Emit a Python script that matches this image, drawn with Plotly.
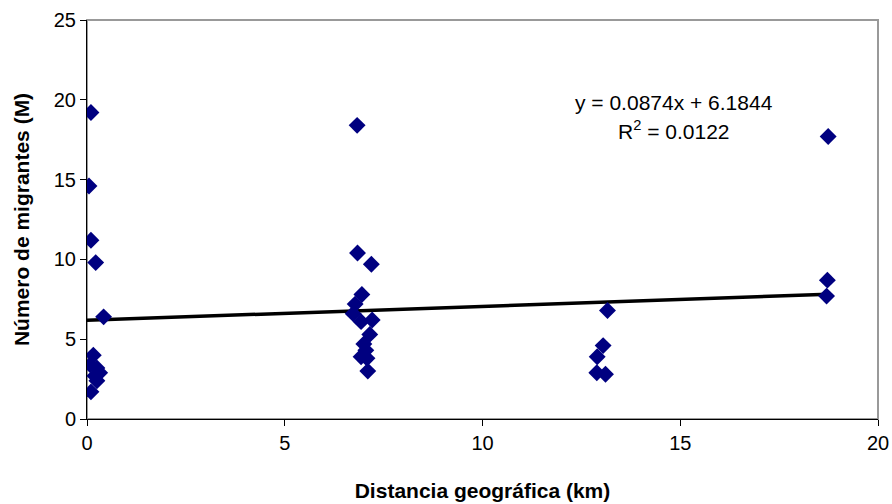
import plotly.graph_objects as go

# Data
dist_km = [0.10, 0.05, 0.10, 0.22, 0.42, 0.16, 0.08, 0.25, 0.32, 0.20, 0.25, 0.10,
           6.83, 6.84, 7.19, 6.95, 6.78, 6.73, 6.93, 7.21, 7.15, 7.00, 7.05, 6.93, 7.08, 7.10,
           13.16, 13.05, 12.90, 12.89, 13.11,
           18.74, 18.72, 18.70]
migrantes = [19.2, 14.6, 11.2, 9.8, 6.4, 4.0, 3.4, 3.2, 2.9, 2.7, 2.4, 1.7,
             18.4, 10.4, 9.7, 7.8, 7.2, 6.6, 6.1, 6.2, 5.3, 4.7, 4.3, 3.9, 3.8, 3.0,
             6.8, 4.6, 3.9, 2.9, 2.8,
             17.7, 8.7, 7.7]
slope = 0.0874
intercept = 6.1844
r2 = 0.0122
x_ticks = [0, 5, 10, 15, 20]
y_ticks = [0, 5, 10, 15, 20, 25]

x_line = [0, max(dist_km)]
y_line = [slope * v + intercept for v in x_line]

FONT = "Liberation Sans, Arial"

fig = go.Figure()
fig.add_trace(go.Scatter(x=x_line, y=y_line, mode="lines",
                         line=dict(color="black", width=3.5), hoverinfo="skip"))
fig.add_trace(go.Scatter(x=dist_km, y=migrantes, mode="markers",
                         marker=dict(symbol="diamond", size=13, color="#000080",
                                     line=dict(width=0))))

fig.add_annotation(x=14.85, y=19.8, xref="x", yref="y",
                   text=f"y = {slope}x + {intercept}", showarrow=False,
                   font=dict(family=FONT, size=21, color="black"))
fig.add_annotation(x=14.85, y=18.1, xref="x", yref="y",
                   text=f"R<sup>2</sup> = {r2}", showarrow=False,
                   font=dict(family=FONT, size=21, color="black"))

fig.add_shape(type="rect", xref="paper", yref="paper", x0=0, y0=0, x1=1, y1=1,
              line=dict(color="#999999", width=2), layer="below")

fig.update_layout(
    width=892, height=504,
    margin=dict(l=87, r=14, t=20, b=85),
    paper_bgcolor="white", plot_bgcolor="white",
    showlegend=False,
    font=dict(family=FONT, size=20, color="black"),
    xaxis=dict(range=[0, 20], tickvals=x_ticks, showgrid=False, zeroline=False,
               showline=True, linecolor="black", linewidth=1, automargin=False,
               ticks="outside", ticklen=6, tickcolor="black",
               ticklabeloverflow="allow",
               tickfont=dict(family=FONT, size=20),
               title=dict(text="<b>Distancia geográfica (km)</b>",
                          font=dict(family=FONT, size=21), standoff=30)),
    yaxis=dict(range=[0, 25], tickvals=y_ticks, showgrid=False, zeroline=False,
               showline=True, linecolor="black", linewidth=1, automargin=False,
               ticks="outside", ticklen=6, tickcolor="black",
               ticklabeloverflow="allow",
               tickfont=dict(family=FONT, size=20),
               title=dict(text="<b>Número de migrantes (M)</b>",
                          font=dict(family=FONT, size=21), standoff=18)),
)

fig.write_html("out.html")
